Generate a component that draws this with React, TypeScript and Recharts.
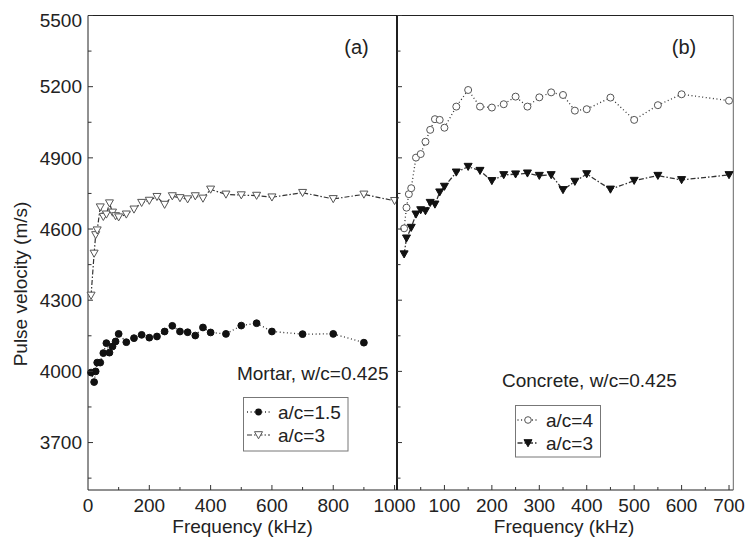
import React from 'react';
import { LineChart, Line, XAxis, YAxis } from 'recharts';

// ---- Data ----
// Panel (a): Mortar, w/c = 0.425
const mortarA15Freq = [10, 20, 25, 30, 40, 50, 60, 70, 80, 90, 100, 125, 150, 175, 200, 225, 250, 275, 300, 325, 350, 375, 400, 450, 500, 550, 600, 700, 800, 900];
const mortarA15Vel = [3995, 3955, 4000, 4037, 4037, 4077, 4119, 4079, 4105, 4126, 4158, 4123, 4140, 4154, 4142, 4147, 4168, 4192, 4168, 4165, 4151, 4185, 4164, 4158, 4193, 4203, 4168, 4157, 4158, 4121];

const mortarA3Freq = [10, 20, 25, 30, 40, 50, 60, 70, 80, 90, 100, 125, 150, 175, 200, 225, 250, 275, 300, 325, 350, 375, 400, 450, 500, 550, 600, 700, 800, 900, 1000];
const mortarA3Vel = [4320, 4497, 4575, 4595, 4692, 4652, 4662, 4709, 4670, 4655, 4650, 4662, 4683, 4711, 4720, 4736, 4703, 4739, 4731, 4726, 4739, 4729, 4767, 4746, 4743, 4741, 4734, 4753, 4727, 4746, 4719];

// Panel (b): Concrete, w/c = 0.425
const concA4Freq = [15, 20, 25, 30, 40, 50, 60, 70, 80, 90, 100, 125, 150, 175, 200, 225, 250, 275, 300, 325, 350, 375, 400, 450, 500, 550, 600, 700];
const concA4Vel = [4603, 4690, 4747, 4772, 4901, 4916, 4968, 5018, 5063, 5060, 5027, 5116, 5186, 5116, 5112, 5126, 5158, 5116, 5155, 5176, 5165, 5099, 5105, 5154, 5060, 5122, 5168, 5141];

const concA3Freq = [15, 20, 30, 40, 50, 60, 70, 80, 90, 100, 125, 150, 175, 200, 225, 250, 275, 300, 325, 350, 375, 400, 450, 500, 550, 600, 700];
const concA3Vel = [4494, 4561, 4606, 4662, 4680, 4676, 4711, 4704, 4755, 4779, 4839, 4863, 4846, 4803, 4828, 4831, 4835, 4825, 4828, 4765, 4800, 4832, 4767, 4804, 4825, 4807, 4828];

// Axis ticks
const yTicks = [3550, 3700, 3850, 4000, 4150, 4300, 4450, 4600, 4750, 4900, 5050, 5200, 5350, 5500];
const yDomain = [3500, 5500];
const leftXTicks = [0, 100, 200, 300, 400, 500, 600, 700, 800, 900, 1000];
const leftXDomain = [0, 1008];
const rightXTicks = [50, 100, 150, 200, 250, 300, 350, 400, 450, 500, 550, 600, 650, 700];
const rightXDomain = [0, 709];

const zip = (fs: number[], vs: number[]) => fs.map((f, i) => ({ f, v: vs[i] }));

const FONT = '"Liberation Sans", Arial, Helvetica, sans-serif';
const INK = '#222';
const LINE = '#333';
const DOTTED = '1 2.6';
const DASHDOT = '5 2 1.5 2';

// ---- markers ----
const triPath = (cx: number, cy: number) =>
  `M${cx - 4},${cy - 3.3}L${cx + 4},${cy - 3.3}L${cx},${cy + 3.8}Z`;

const filledCircle = (p: any) => (
  <circle key={`fc${p.index}`} cx={p.cx} cy={p.cy} r={3.4} fill="#111" stroke="#111" />
);
const openCircle = (p: any) => (
  <circle key={`oc${p.index}`} cx={p.cx} cy={p.cy} r={3.5} fill="#fff" stroke="#555" strokeWidth={1} />
);
const openTri = (p: any) => (
  <path key={`ot${p.index}`} d={triPath(p.cx, p.cy)} fill="#fff" stroke="#555" strokeWidth={1} />
);
const filledTri = (p: any) => (
  <path key={`ft${p.index}`} d={triPath(p.cx, p.cy)} fill="#111" stroke="#111" strokeWidth={1} />
);

// ---- ticks (inward) ----
const makeXTick = (majorStep: number) => (p: any) => {
  const v = p.payload.value;
  const major = Math.abs(v % majorStep) < 1e-6;
  const len = v === 0 ? 0 : major ? 5 : 3;
  return (
    <g>
      {len > 0 && <line x1={p.x} x2={p.x} y1={p.y} y2={p.y - len} stroke={LINE} strokeWidth={1} />}
      {major && (
        <text x={p.x} y={p.y + 15} dy="0.35em" textAnchor="middle" fontFamily={FONT} fontSize={19} fill={INK}>
          {v}
        </text>
      )}
    </g>
  );
};

const makeYTick = (showLabels: boolean) => (p: any) => {
  const v = p.payload.value;
  const major = (v - 3700) % 300 === 0;
  const len = major ? 5 : 3.5;
  const shift = v === yDomain[1] ? 5 : 0;
  return (
    <g>
      <line x1={p.x} x2={p.x + len} y1={p.y} y2={p.y} stroke={LINE} strokeWidth={1} />
      {showLabels && major && (
        <text x={p.x - 6} y={p.y + shift} dy="0.35em" textAnchor="end" fontFamily={FONT} fontSize={19} fill={INK}>
          {v}
        </text>
      )}
    </g>
  );
};

const H = 545;

function LeftPanel() {
  return (
    <LineChart width={420} height={H} margin={{ top: 14.5, left: 28, right: 22, bottom: 25 }}>
      <XAxis
        dataKey="f"
        type="number"
        domain={leftXDomain}
        ticks={leftXTicks}
        interval={0}
        height={30}
        tickSize={0}
        tickMargin={0}
        tickLine={false}
        axisLine={{ stroke: INK, strokeWidth: 1 }}
        tick={makeXTick(200)}
      />
      <XAxis xAxisId="top" orientation="top" type="number" domain={leftXDomain} height={1} tick={false} tickLine={false} axisLine={{ stroke: INK }} />
      <YAxis
        type="number"
        domain={yDomain}
        ticks={yTicks}
        interval={0}
        width={60}
        tickSize={0}
        tickMargin={0}
        tickLine={false}
        axisLine={{ stroke: INK, strokeWidth: 1 }}
        tick={makeYTick(true)}
      />
      <YAxis yAxisId="right" orientation="right" type="number" domain={yDomain} width={1} tick={false} tickLine={false} axisLine={{ stroke: '#111', strokeWidth: 1.5 }} />
      <Line data={zip(mortarA15Freq, mortarA15Vel)} dataKey="v" type="linear" stroke={LINE} strokeWidth={1.3} strokeDasharray={DOTTED} dot={filledCircle} isAnimationActive={false} />
      <Line data={zip(mortarA3Freq, mortarA3Vel)} dataKey="v" type="linear" stroke={LINE} strokeWidth={1.2} strokeDasharray={DASHDOT} dot={openTri} isAnimationActive={false} />
    </LineChart>
  );
}

function RightPanel() {
  return (
    <LineChart width={366} height={H} margin={{ top: 14.5, left: 16, right: 11.7, bottom: 25 }}>
      <XAxis
        dataKey="f"
        type="number"
        domain={rightXDomain}
        ticks={rightXTicks}
        interval={0}
        height={30}
        tickSize={0}
        tickMargin={0}
        tickLine={false}
        axisLine={{ stroke: INK, strokeWidth: 1 }}
        tick={makeXTick(100)}
      />
      <XAxis xAxisId="top" orientation="top" type="number" domain={rightXDomain} height={1} tick={false} tickLine={false} axisLine={{ stroke: INK }} />
      <YAxis
        type="number"
        domain={yDomain}
        ticks={yTicks}
        interval={0}
        width={1}
        tickSize={0}
        tickMargin={0}
        tickLine={false}
        axisLine={{ stroke: '#111', strokeWidth: 1.5 }}
        tick={makeYTick(false)}
      />
      <YAxis yAxisId="right" orientation="right" type="number" domain={yDomain} width={1} tick={false} tickLine={false} axisLine={{ stroke: '#666', strokeWidth: 1 }} />
      <Line data={zip(concA4Freq, concA4Vel)} dataKey="v" type="linear" stroke={LINE} strokeWidth={1.3} strokeDasharray={DOTTED} dot={openCircle} isAnimationActive={false} />
      <Line data={zip(concA3Freq, concA3Vel)} dataKey="v" type="linear" stroke={LINE} strokeWidth={1.3} strokeDasharray={DASHDOT} dot={filledTri} isAnimationActive={false} />
    </LineChart>
  );
}

const T = (props: any) => (
  <text fontFamily={FONT} fontSize={19} fill={INK} dominantBaseline="central" {...props} />
);

function Overlay() {
  return (
    <svg width={746} height={545} style={{ position: 'absolute', left: 0, top: 0, pointerEvents: 'none' }}>
      <T x={20} y={284} textAnchor="middle" transform="rotate(-90 20 284)">Pulse velocity (m/s)</T>
      <T x={242.5} y={526} textAnchor="middle">Frequency (kHz)</T>
      <T x={564} y={526} textAnchor="middle">Frequency (kHz)</T>
      <T x={356.5} y={47} textAnchor="middle" fontSize={20}>(a)</T>
      <T x={684} y={47} textAnchor="middle" fontSize={20}>(b)</T>
      <T x={388.5} y={373} textAnchor="end">Mortar, w/c=0.425</T>
      <T x={502} y={380} textAnchor="start">Concrete, w/c=0.425</T>

      {/* legend (a) */}
      <rect x={243.5} y={397.5} width={104.5} height={53.5} fill="#fff" stroke="#777" strokeWidth={1} />
      <line x1={247} x2={270} y1={412} y2={412} stroke={LINE} strokeWidth={1.3} strokeDasharray={DOTTED} />
      <circle cx={258.5} cy={412} r={3.4} fill="#111" />
      <T x={278} y={412}>a/c=1.5</T>
      <line x1={247} x2={270} y1={435} y2={435} stroke={LINE} strokeWidth={1.2} strokeDasharray={DASHDOT} />
      <path d={triPath(258.5, 435)} fill="#fff" stroke="#555" />
      <T x={278} y={435}>a/c=3</T>

      {/* legend (b) */}
      <rect x={515.5} y={405.5} width={85} height={51.5} fill="#fff" stroke="#777" strokeWidth={1} />
      <line x1={517.5} x2={538} y1={420} y2={420} stroke={LINE} strokeWidth={1.3} strokeDasharray={DOTTED} />
      <circle cx={528} cy={420} r={3.3} fill="#fff" stroke="#555" />
      <T x={546} y={420}>a/c=4</T>
      <line x1={517.5} x2={538} y1={443} y2={443} stroke={LINE} strokeWidth={1.3} strokeDasharray={DASHDOT} />
      <path d={triPath(528, 443)} fill="#111" stroke="#111" />
      <T x={546} y={443}>a/c=3</T>
    </svg>
  );
}

export default function App() {
  return (
    <div style={{ position: 'absolute', left: 0, top: 0, width: 746, height: 545, background: '#fff', overflow: 'hidden' }}>
      <div style={{ position: 'absolute', left: 0, top: 0 }}>
        <LeftPanel />
      </div>
      <div style={{ position: 'absolute', left: 380, top: 0 }}>
        <RightPanel />
      </div>
      <Overlay />
    </div>
  );
}
